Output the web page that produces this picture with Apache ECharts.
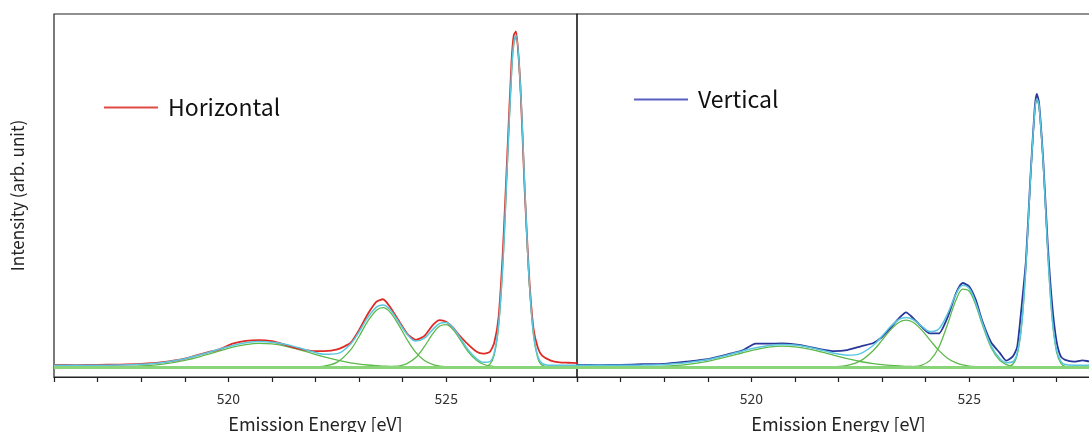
<!DOCTYPE html>
<html>
<head>
<meta charset="utf-8">
<script src="https://cdn.jsdelivr.net/npm/echarts@6/dist/echarts.min.js"></script>
<style>
html,body{margin:0;padding:0;background:#fff;}
#chart{width:1089px;height:432px;}
</style>
</head>
<body>
<div id="chart"></div>
<script>
// Emission energy grid (eV)
const energy = [516, 516.5, 517, 517.5, 518, 518.5, 519, 519.5, 519.8, 520.1,
  520.4, 520.7, 521.0, 521.3, 521.6, 521.9, 522.2, 522.5, 522.8, 523.0,
  523.2, 523.4, 523.55, 523.7, 523.9, 524.1, 524.3, 524.5, 524.7, 524.85,
  525.0, 525.15, 525.3, 525.5, 525.7, 525.85, 526.0, 526.1, 526.2, 526.3,
  526.4, 526.5, 526.55, 526.6, 526.7, 526.8, 526.9, 527.0, 527.1, 527.2,
  527.4, 527.6, 527.8, 528];
const tickLabels = [520, 525];
const rangeE = [516, 528];

// Horizontal polarization: measured, total fit, components
const measH = [0.006, 0.0055, 0.006, 0.007, 0.009, 0.014, 0.024, 0.041, 0.05, 0.066,
  0.074, 0.076, 0.073, 0.063, 0.052, 0.046, 0.045, 0.05, 0.068, 0.105,
  0.15, 0.185, 0.192, 0.172, 0.133, 0.095, 0.077, 0.088, 0.12, 0.133,
  0.128, 0.112, 0.09, 0.064, 0.043, 0.038, 0.043, 0.068, 0.14, 0.33,
  0.6, 0.87, 0.94, 0.951, 0.8, 0.5, 0.26, 0.11, 0.055, 0.032,
  0.018, 0.013, 0.012, 0.011];
const fitH = [0.005, 0.005, 0.0052, 0.0058, 0.0079, 0.0131, 0.0236, 0.0398, 0.0508, 0.061,
  0.0685, 0.072, 0.0704, 0.0644, 0.055, 0.0445, 0.036, 0.0379, 0.0647, 0.0999,
  0.1407, 0.1698, 0.1758, 0.1644, 0.1296, 0.0931, 0.0735, 0.0816, 0.1073, 0.1237,
  0.1263, 0.1121, 0.0861, 0.049, 0.0232, 0.0133, 0.0154, 0.0399, 0.1192, 0.2967,
  0.572, 0.841, 0.9195, 0.94, 0.796, 0.512, 0.252, 0.096, 0.0305, 0.0104,
  0.005, 0.005, 0.005, 0.005];
const compH1 = [0, 0, 0.0002, 0.0008, 0.0029, 0.0081, 0.0186, 0.0348, 0.0458, 0.056,
  0.0635, 0.067, 0.0654, 0.0594, 0.05, 0.0391, 0.0284, 0.0192, 0.012, 0.0084,
  0.0057, 0.0038, 0.0027, 0.0019, 0.0011, 0.0007, 0.0004, 0.0002, 0, 0,
  0, 0, 0, 0, 0, 0, 0, 0, 0, 0,
  0, 0, 0, 0, 0, 0, 0, 0, 0, 0,
  0, 0, 0, 0];
const compH2 = [0, 0, 0, 0, 0, 0, 0, 0, 0, 0,
  0, 0, 0, 0, 0, 0.0004, 0.0026, 0.0137, 0.0477, 0.0865,
  0.13, 0.161, 0.168, 0.157, 0.121, 0.078, 0.0414, 0.0182, 0.0066, 0.0027,
  0.001, 0.0003, 0, 0, 0, 0, 0, 0, 0, 0,
  0, 0, 0, 0, 0, 0, 0, 0, 0, 0,
  0, 0, 0, 0];
const compH3 = [0, 0, 0, 0, 0, 0, 0, 0, 0, 0,
  0, 0, 0, 0, 0, 0, 0, 0, 0, 0,
  0, 0, 0, 0.0005, 0.0025, 0.0094, 0.0267, 0.0582, 0.0957, 0.116,
  0.1203, 0.1068, 0.0811, 0.044, 0.0182, 0.0078, 0.0029, 0.0013, 0.0005, 0,
  0, 0, 0, 0, 0, 0, 0, 0, 0, 0,
  0, 0, 0, 0];
const compH4 = [0, 0, 0, 0, 0, 0, 0, 0, 0, 0,
  0, 0, 0, 0, 0, 0, 0, 0, 0, 0,
  0, 0, 0, 0, 0, 0, 0, 0, 0, 0,
  0, 0, 0, 0, 0, 0.0005, 0.0075, 0.0336, 0.1137, 0.2917,
  0.567, 0.836, 0.9145, 0.935, 0.791, 0.507, 0.247, 0.091, 0.0255, 0.0054,
  0, 0, 0, 0];

// Vertical polarization: measured, total fit, components
const measV = [0.006, 0.0055, 0.006, 0.008, 0.009, 0.015, 0.022, 0.037, 0.047, 0.066,
  0.066, 0.067, 0.064, 0.058, 0.05, 0.045, 0.048, 0.058, 0.068, 0.085,
  0.112, 0.14, 0.155, 0.14, 0.115, 0.095, 0.095, 0.14, 0.21, 0.238,
  0.228, 0.19, 0.13, 0.07, 0.04, 0.018, 0.03, 0.057, 0.17, 0.30,
  0.53, 0.73, 0.774, 0.75, 0.58, 0.35, 0.18, 0.075, 0.03, 0.02,
  0.015, 0.019, 0.015, 0.015];
const fitV = [0.005, 0.005, 0.0051, 0.0057, 0.0074, 0.0119, 0.021, 0.0355, 0.0454, 0.0545,
  0.0612, 0.064, 0.0623, 0.0566, 0.0481, 0.039, 0.0332, 0.0379, 0.0616, 0.0876,
  0.1154, 0.1354, 0.14, 0.1349, 0.1165, 0.1003, 0.1077, 0.1502, 0.2075, 0.2317,
  0.2223, 0.1814, 0.1257, 0.0606, 0.0238, 0.0124, 0.0149, 0.0403, 0.1193, 0.2864,
  0.5245, 0.7213, 0.76, 0.7425, 0.572, 0.3306, 0.1446, 0.0496, 0.0157, 0.0069,
  0.005, 0.005, 0.005, 0.005];
const compV1 = [0, 0, 0.0001, 0.0007, 0.0024, 0.0069, 0.016, 0.0305, 0.0404, 0.0495,
  0.0562, 0.059, 0.0573, 0.0516, 0.043, 0.0331, 0.0236, 0.0156, 0.0096, 0.0066,
  0.0044, 0.0028, 0.002, 0.0014, 0.0008, 0.0005, 0.0002, 0, 0, 0,
  0, 0, 0, 0, 0, 0, 0, 0, 0, 0,
  0, 0, 0, 0, 0, 0, 0, 0, 0, 0,
  0, 0, 0, 0];
const compV2 = [0, 0, 0, 0, 0, 0, 0, 0, 0, 0,
  0, 0, 0, 0, 0.0001, 0.0009, 0.0046, 0.0173, 0.047, 0.076,
  0.106, 0.1276, 0.133, 0.1276, 0.106, 0.076, 0.047, 0.025, 0.0115, 0.0058,
  0.0027, 0.0012, 0.0005, 0.0001, 0, 0, 0, 0, 0, 0,
  0, 0, 0, 0, 0, 0, 0, 0, 0, 0,
  0, 0, 0, 0];
const compV3 = [0, 0, 0, 0, 0, 0, 0, 0, 0, 0,
  0, 0, 0, 0, 0, 0, 0, 0, 0, 0,
  0, 0, 0, 0.0009, 0.0047, 0.0188, 0.0555, 0.1202, 0.191, 0.2209,
  0.2146, 0.1752, 0.1202, 0.0555, 0.0188, 0.0069, 0.0021, 0.0009, 0.0003, 0,
  0, 0, 0, 0, 0, 0, 0, 0, 0, 0,
  0, 0, 0, 0];
const compV4 = [0, 0, 0, 0, 0, 0, 0, 0, 0, 0,
  0, 0, 0, 0, 0, 0, 0, 0, 0, 0,
  0, 0, 0, 0, 0, 0, 0, 0, 0, 0,
  0, 0, 0, 0, 0, 0.0005, 0.0078, 0.0344, 0.114, 0.2814,
  0.5195, 0.7163, 0.755, 0.7375, 0.567, 0.3256, 0.1396, 0.0446, 0.0107, 0.0019,
  0, 0, 0, 0];

const FONT = '"Noto Sans CJK JP", "Noto Sans", sans-serif';
const RED = '#de2b26', BLUE = '#2a379a', CYAN = '#5ac6df', GREEN = '#5cb94a', BASE = '#8ad47a';

function pts(arr) { return energy.map((e, i) => [e, arr[i]]); }

function xAx(grid) {
  return {
    type: 'value', gridIndex: grid, min: rangeE[0], max: rangeE[1], interval: 1,
    name: 'Emission Energy [eV]', nameLocation: 'middle', nameGap: 38,
    nameTextStyle: { fontFamily: FONT, fontSize: 18, color: '#222' },
    axisLine: { show: true, onZero: false, lineStyle: { color: '#222', width: 1.2 } },
    axisTick: { show: true, inside: false, length: 5, lineStyle: { color: '#222', width: 1.2 } },
    axisLabel: { fontFamily: FONT, fontSize: 14, color: '#333', margin: 15,
      formatter: v => tickLabels.indexOf(v) >= 0 ? String(v) : '' },
    splitLine: { show: false }
  };
}
function yAx(grid, withName) {
  return {
    type: 'value', gridIndex: grid, min: -0.0283, max: 1,
    name: withName ? 'Intensity (arb. unit)' : '', nameLocation: 'middle', nameGap: 28, nameRotate: 90,
    nameTextStyle: { fontFamily: FONT, fontSize: 17, color: '#222' },
    axisLine: { show: false }, axisTick: { show: false }, axisLabel: { show: false },
    splitLine: { show: false }
  };
}
function comp(arr, xi, withBase) {
  const s = {
    type: 'line', xAxisIndex: xi, yAxisIndex: xi, data: pts(arr), smooth: 0.35,
    showSymbol: false, symbol: 'none', silent: true,
    lineStyle: { color: GREEN, width: 1.3 }, itemStyle: { color: GREEN }, z: 2
  };
  if (withBase) {
    s.markLine = { silent: true, symbol: 'none', label: { show: false },
      lineStyle: { color: BASE, width: 3, type: 'solid' }, data: [{ yAxis: 0 }] };
  }
  return s;
}

const chart = echarts.init(document.getElementById('chart'), null, { renderer: 'canvas' });
chart.setOption({
  animation: false,
  backgroundColor: '#fff',
  grid: [
    { left: 54, top: 14, width: 523, height: 363, outerBoundsMode: 'none', containLabel: false,
      show: true, borderColor: '#222', borderWidth: 1.2, backgroundColor: 'transparent' },
    { left: 577, top: 14, width: 523, height: 363, outerBoundsMode: 'none', containLabel: false,
      show: true, borderColor: '#222', borderWidth: 1.2, backgroundColor: 'transparent' }
  ],
  xAxis: [xAx(0), xAx(1)],
  yAxis: [yAx(0, true), yAx(1, false)],
  legend: [
    { left: 99, top: 91, data: [{ name: 'Horizontal', itemStyle: { color: '#e04a44' } }], icon: 'rect', itemWidth: 54, itemHeight: 2,
      textStyle: { fontFamily: FONT, fontSize: 23, color: '#111', padding: [0, 0, 0, 5] }, selectedMode: false },
    { left: 629, top: 83, data: [{ name: 'Vertical', itemStyle: { color: '#5a60bf' } }], icon: 'rect', itemWidth: 54, itemHeight: 2,
      textStyle: { fontFamily: FONT, fontSize: 23, color: '#111', padding: [0, 0, 0, 5] }, selectedMode: false }
  ],
  series: [
    comp(compH1, 0, true), comp(compH2, 0, false), comp(compH3, 0, false), comp(compH4, 0, false),
    { name: 'Horizontal', type: 'line', xAxisIndex: 0, yAxisIndex: 0, data: pts(measH), smooth: 0.2,
      showSymbol: false, symbol: 'none', lineStyle: { color: RED, width: 1.8 }, itemStyle: { color: RED }, z: 3 },
    { name: 'fitH', type: 'line', xAxisIndex: 0, yAxisIndex: 0, data: pts(fitH), smooth: 0.35,
      showSymbol: false, symbol: 'none', lineStyle: { color: CYAN, width: 1.5 }, itemStyle: { color: CYAN }, z: 4 },
    comp(compV1, 1, true), comp(compV2, 1, false), comp(compV3, 1, false), comp(compV4, 1, false),
    { name: 'Vertical', type: 'line', xAxisIndex: 1, yAxisIndex: 1, data: pts(measV), smooth: 0.2,
      showSymbol: false, symbol: 'none', lineStyle: { color: BLUE, width: 1.8 }, itemStyle: { color: BLUE }, z: 3 },
    { name: 'fitV', type: 'line', xAxisIndex: 1, yAxisIndex: 1, data: pts(fitV), smooth: 0.35,
      showSymbol: false, symbol: 'none', lineStyle: { color: CYAN, width: 1.5 }, itemStyle: { color: CYAN }, z: 4 }
  ]
});
</script>
</body>
</html>
